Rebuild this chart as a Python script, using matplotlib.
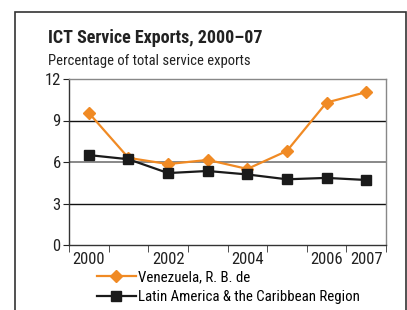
import matplotlib.pyplot as plt
from matplotlib.patches import Rectangle
from matplotlib.lines import Line2D

# data
years = ['2000', '2001', '2002', '2003', '2004', '2005', '2006', '2007']
tick_labels = ['2000', '', '2002', '', '2004', '', '2006', '2007']
venezuela = [9.55, 6.3, 5.85, 6.15, 5.5, 6.8, 10.3, 11.05]
latam = [6.5, 6.2, 5.2, 5.35, 5.1, 4.75, 4.85, 4.7]
y_ticks = [0, 3, 6, 9, 12]

orange = '#f08a24'
plt.rcParams['font.family'] = ['Roboto Condensed', 'DejaVu Sans']

fig = plt.figure(figsize=(4.07, 3.10), dpi=100)
W, H = 407, 310

# outer frame (left, top, right edges visible)
frame = Rectangle((15 / W, -0.05), (406 - 15) / W, (H - 12) / H + 0.05,
                  transform=fig.transFigure, fill=False, edgecolor='#333333', lw=1.2)
fig.patches.append(frame)

fig.text(48 / W, 1 - 38 / H, 'ICT Service Exports, 2000\u201307', fontsize=13,
         fontweight='bold', va='center', ha='left', color='#222222')
fig.text(48 / W, 1 - 61 / H, 'Percentage of total service exports', fontsize=10.5,
         va='center', ha='left', color='#222222')

ax = fig.add_axes([69 / W, 1 - 245 / H, (386 - 69) / W, (245 - 79) / H])
x = list(range(len(years)))
ax.plot(x, venezuela, color=orange, marker='D', markersize=6, lw=1.6,
        label='Venezuela, R. B. de', zorder=3)
ax.plot(x, latam, color='#1a1a1a', marker='s', markersize=7, lw=1.6,
        label='Latin America & the Caribbean Region', zorder=3)

ax.set_xlim(-0.5, len(years) - 0.5)
ax.set_ylim(0, 12)
ax.set_yticks(y_ticks)
ax.set_yticklabels([str(v) for v in y_ticks], fontsize=12)
ax.tick_params(axis='y', length=4, direction='out', pad=2, colors='#222222')

# category labels at the centres, ticks at the boundaries
ax.set_xticks(x)
ax.set_xticklabels(tick_labels, fontsize=12, color='#222222')
ax.tick_params(axis='x', length=0, pad=5)
ax.set_xticks([i - 0.5 for i in range(len(years) + 1)], minor=True)
ax.tick_params(axis='x', which='minor', length=5, direction='out', color='#333333')

for v in [3, 9]:
    ax.axhline(v, color='#111111', lw=1.0, zorder=1)
ax.axhline(6, color='#888888', lw=1.4, zorder=1)

for side in ['left', 'bottom']:
    ax.spines[side].set_color('#333333')
    ax.spines[side].set_linewidth(1.0)
for side in ['top', 'right']:
    ax.spines[side].set_color('#888888')
    ax.spines[side].set_linewidth(1.0)

handles = [Line2D([], [], color=orange, marker='D', markersize=6, lw=1.6),
           Line2D([], [], color='#1a1a1a', marker='s', markersize=7, lw=1.6)]
fig.legend(handles, ['Venezuela, R. B. de', 'Latin America & the Caribbean Region'],
           loc='upper left', bbox_to_anchor=(97 / W, 1 - 270 / H), frameon=False,
           fontsize=10.7, handlelength=2.6, handletextpad=0.15, labelspacing=0.4,
           borderaxespad=0, borderpad=0)

fig.savefig('out.png', dpi=100)
